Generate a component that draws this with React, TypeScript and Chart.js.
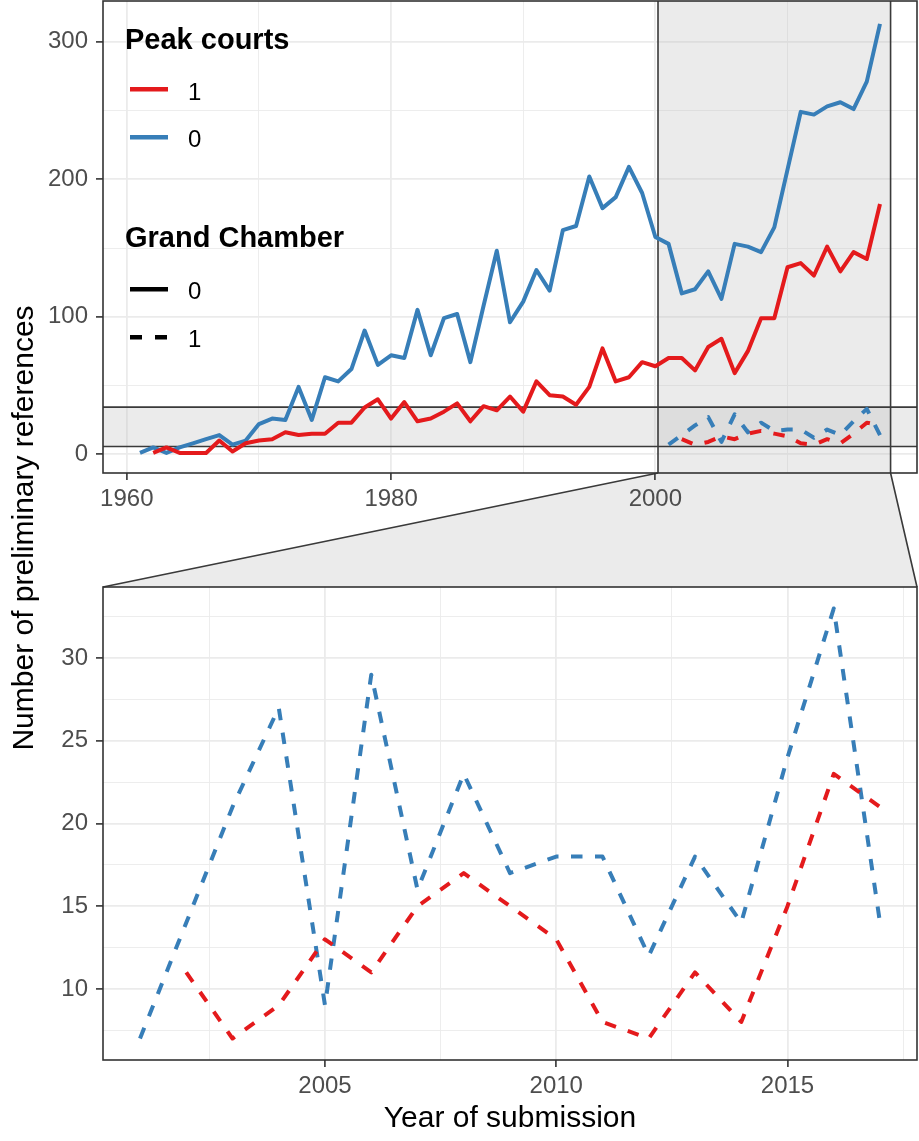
import React, { useEffect, useRef } from "react";
import { Chart, registerables } from "chart.js";

Chart.register(...registerables);

const W = 919;
const H = 1141;
const TOP_H = 515;
const FONT = '"Liberation Sans", Arial, Helvetica, sans-serif';
const RED = "#E41A1C";
const BLUE = "#377EB8";
const DARK = "#333333";
const ZOOM_FILL = "rgba(190,190,190,0.31)";
const DASH = [11.5, 12.5];

// Peak courts = 0, Grand Chamber = 0 (blue solid), first year 1961
const peak0Gc0Start = 1961;
const peak0Gc0 = [
  1, 5, 1, 5, 8, 11, 14, 7, 10, 22, 26, 25, 49, 25, 56, 53, 62, 90, 65, 72,
  70, 105, 72, 99, 102, 67, 108, 148, 96, 111, 134, 119, 163, 166, 202, 179, 187, 209, 190, 158,
  153, 117, 120, 133, 113, 153, 151, 147, 165, 207, 249, 247, 253, 256, 251, 271, 313,
];

// Peak courts = 1, Grand Chamber = 0 (red solid), first year 1962
const peak1Gc0Start = 1962;
const peak1Gc0 = [
  1, 5, 1, 1, 1, 10, 2, 8, 10, 11, 16, 14, 15, 15, 23, 23, 34, 40, 26,
  38, 24, 26, 31, 37, 24, 35, 32, 42, 31, 53, 43, 42, 36, 49, 77, 53, 56, 67, 64,
  70, 70, 61, 78, 84, 59, 75, 99, 99, 136, 139, 130, 151, 133, 147, 142, 182,
];

// Peak courts = 0, Grand Chamber = 1 (blue dashed), first year 2001
const peak0Gc1Start = 2001;
const peak0Gc1 = [7, 14, 21, 27, 9, 29, 16, 23, 17, 18, 18, 12, 18, 14, 24, 33, 14];

// Peak courts = 1, Grand Chamber = 1 (red dashed), first year 2002
const peak1Gc1Start = 2002;
const peak1Gc1 = [11, 7, 9, 13, 11, 15, 17, 15, 13, 8, 7, 11, 8, 15, 23, 21];

// axes
const topXRange = [1958.2, 2019.8];
const topYRange = [-13.6, 329.6];
const zoomXRange = [2000.2, 2017.8];
const zoomYRange = [5.7, 34.3];
const topXMajor = [1960, 1980, 2000];
const topXMinor = [1970, 1990, 2010];
const topYMajor = [0, 100, 200, 300];
const topYMinor = [50, 150, 250];
const botXMajor = [2005, 2010, 2015];
const botXMinor = [2002.5, 2007.5, 2012.5, 2017.5];
const botYMajor = [10, 15, 20, 25, 30];
const botYMinor = [7.5, 12.5, 17.5, 22.5, 27.5, 32.5];

const legendColourTitle = "Peak courts";
const legendColourLabels = ["1", "0"];
const legendTypeTitle = "Grand Chamber";
const legendTypeLabels = ["0", "1"];
const xTitle = "Year of submission";
const yTitle = "Number of preliminary references";

function toPoints(start: number, vals: number[]) {
  return vals.map((v, i) => ({ x: start + i, y: v }));
}

function makeDatasets() {
  const common = {
    borderWidth: 4,
    pointRadius: 0,
    pointHoverRadius: 0,
    fill: false,
    tension: 0,
    borderCapStyle: "butt" as const,
    borderJoinStyle: "round" as const,
  };
  return [
    { ...common, label: "p1g1", data: toPoints(peak1Gc1Start, peak1Gc1), borderColor: RED, borderDash: DASH, order: 0 },
    { ...common, label: "p0g1", data: toPoints(peak0Gc1Start, peak0Gc1), borderColor: BLUE, borderDash: DASH, order: 1 },
    { ...common, label: "p1g0", data: toPoints(peak1Gc0Start, peak1Gc0), borderColor: RED, borderDash: [], order: 2 },
    { ...common, label: "p0g0", data: toPoints(peak0Gc0Start, peak0Gc0), borderColor: BLUE, borderDash: [], order: 3 },
  ];
}

function linScale(
  range: number[],
  major: number[],
  minor: number[],
  pad: number,
  fit: (s: any) => void
) {
  const all = [...major, ...minor].sort((a, b) => a - b);
  const isMajor = (v: any) => major.includes(v);
  return {
    type: "linear" as const,
    min: range[0],
    max: range[1],
    afterBuildTicks: (s: any) => {
      s.ticks = all.map((v) => ({ value: v }));
    },
    afterFit: (s: any) => {
      s.paddingTop = 0;
      s.paddingBottom = 0;
      s.paddingLeft = 0;
      s.paddingRight = 0;
      fit(s);
    },
    ticks: {
      autoSkip: false,
      maxRotation: 0,
      minRotation: 0,
      color: "#4D4D4D",
      font: { family: FONT, size: 24 },
      padding: pad,
      callback: (v: any) => (isMajor(v) ? String(v) : ""),
    },
    grid: {
      color: "#EBEBEB",
      lineWidth: (ctx: any) => (ctx.tick && isMajor(ctx.tick.value) ? 1.8 : 0.9),
      drawTicks: true,
      tickLength: 7,
      tickWidth: 1.6,
      tickColor: (ctx: any) => (ctx.tick && isMajor(ctx.tick.value) ? DARK : "rgba(0,0,0,0)"),
    },
    border: { display: false },
  };
}

export default function App() {
  const topRef = useRef<HTMLCanvasElement>(null);
  const botRef = useRef<HTMLCanvasElement>(null);

  useEffect(() => {
    let topChart: any = null;

    const topPlugin = {
      id: "topDecor",
      beforeDatasetsDraw(chart: any) {
        const { ctx, chartArea: a, scales } = chart;
        const x0 = scales.x.getPixelForValue(zoomXRange[0]);
        const x1 = scales.x.getPixelForValue(zoomXRange[1]);
        const y0 = scales.y.getPixelForValue(zoomYRange[0]);
        const y1 = scales.y.getPixelForValue(zoomYRange[1]);
        ctx.save();
        ctx.fillStyle = ZOOM_FILL;
        ctx.fillRect(x0, a.top, x1 - x0, a.bottom - a.top);
        ctx.fillRect(a.left, y1, a.right - a.left, y0 - y1);
        ctx.strokeStyle = "#3a3a3a";
        ctx.lineWidth = 1.6;
        ctx.beginPath();
        ctx.moveTo(x0, a.top);
        ctx.lineTo(x0, a.bottom);
        ctx.moveTo(x1, a.top);
        ctx.lineTo(x1, a.bottom);
        ctx.moveTo(a.left, y0);
        ctx.lineTo(a.right, y0);
        ctx.moveTo(a.left, y1);
        ctx.lineTo(a.right, y1);
        ctx.stroke();
        ctx.restore();
      },
      afterDraw(chart: any) {
        const { ctx, chartArea: a } = chart;
        ctx.save();
        ctx.strokeStyle = DARK;
        ctx.lineWidth = 1.6;
        ctx.strokeRect(a.left, a.top, a.right - a.left, a.bottom - a.top);

        // legend
        ctx.fillStyle = "#000";
        ctx.textAlign = "left";
        ctx.textBaseline = "alphabetic";
        ctx.font = `bold 29px ${FONT}`;
        ctx.fillText(legendColourTitle, 125, 48.5);
        ctx.fillText(legendTypeTitle, 125, 246.5);

        const keys = [
          { y: 89.3, color: RED, dash: [] as number[], label: legendColourLabels[0], base: 99.5 },
          { y: 137.3, color: BLUE, dash: [] as number[], label: legendColourLabels[1], base: 147.3 },
          { y: 289.3, color: "#000", dash: [] as number[], label: legendTypeLabels[0], base: 298.5 },
          { y: 337.3, color: "#000", dash: [12, 13], label: legendTypeLabels[1], base: 346.7 },
        ];
        ctx.font = `24px ${FONT}`;
        for (const k of keys) {
          ctx.beginPath();
          ctx.setLineDash(k.dash);
          ctx.lineCap = "butt";
          ctx.strokeStyle = k.color;
          ctx.lineWidth = 4.5;
          ctx.moveTo(130, k.y);
          ctx.lineTo(168, k.y);
          ctx.stroke();
          ctx.setLineDash([]);
          ctx.fillStyle = "#000";
          ctx.fillText(k.label, 188, k.base);
        }
        ctx.restore();
      },
    };

    const botPlugin = {
      id: "botDecor",
      beforeDraw(chart: any) {
        if (!topChart) return;
        const { ctx, chartArea: a } = chart;
        const ts = topChart.scales;
        const tx0 = ts.x.getPixelForValue(zoomXRange[0]);
        const tx1 = ts.x.getPixelForValue(zoomXRange[1]);
        const ty = topChart.chartArea.bottom;
        ctx.save();
        ctx.fillStyle = ZOOM_FILL;
        ctx.beginPath();
        ctx.moveTo(tx0, ty);
        ctx.lineTo(tx1, ty);
        ctx.lineTo(a.right, a.top);
        ctx.lineTo(a.left, a.top);
        ctx.closePath();
        ctx.fill();
        ctx.strokeStyle = "#3a3a3a";
        ctx.lineWidth = 1.6;
        ctx.beginPath();
        ctx.moveTo(tx0, ty);
        ctx.lineTo(a.left, a.top);
        ctx.moveTo(tx1, ty);
        ctx.lineTo(a.right, a.top);
        ctx.stroke();
        ctx.restore();
      },
      afterDraw(chart: any) {
        const { ctx, chartArea: a } = chart;
        ctx.save();
        ctx.strokeStyle = DARK;
        ctx.lineWidth = 1.6;
        ctx.strokeRect(a.left, a.top, a.right - a.left, a.bottom - a.top);
        ctx.fillStyle = "#000";
        ctx.font = `30px ${FONT}`;
        ctx.textAlign = "center";
        ctx.textBaseline = "alphabetic";
        ctx.fillText(xTitle, (a.left + a.right) / 2, 1126.7);
        ctx.translate(33, 528);
        ctx.rotate(-Math.PI / 2);
        ctx.fillText(yTitle, 0, 0);
        ctx.restore();
      },
    };

    const baseOptions = {
      responsive: false,
      maintainAspectRatio: false,
      animation: false as const,
      events: [] as any[],
      plugins: { legend: { display: false }, tooltip: { enabled: false } },
    };

    topChart = new Chart(topRef.current as HTMLCanvasElement, {
      type: "line",
      data: { datasets: makeDatasets() as any },
      options: {
        ...baseOptions,
        layout: { padding: { top: 1, left: 0, right: 2, bottom: 0 } },
        scales: {
          x: linScale(topXRange, topXMajor, topXMinor, 5, (s: any) => {
            s.height = TOP_H - 473;
          }),
          y: linScale(topYRange, topYMajor, topYMinor, 8, (s: any) => {
            s.width = 103;
          }),
        } as any,
      },
      plugins: [topPlugin],
    } as any);

    const botChart = new Chart(botRef.current as HTMLCanvasElement, {
      type: "line",
      data: { datasets: makeDatasets() as any },
      options: {
        ...baseOptions,
        layout: { padding: { top: 587, left: 0, right: 2, bottom: 0 } },
        scales: {
          x: linScale(zoomXRange, botXMajor, botXMinor, 5, (s: any) => {
            s.height = H - 1060;
          }),
          y: linScale(zoomYRange, botYMajor, botYMinor, 8, (s: any) => {
            s.width = 103;
          }),
        } as any,
      },
      plugins: [botPlugin],
    } as any);

    return () => {
      botChart.destroy();
      topChart.destroy();
      topChart = null;
    };
  }, []);

  return (
    <div style={{ position: "absolute", left: 0, top: 0, width: W, height: H, background: "#fff" }}>
      <canvas
        ref={botRef}
        width={W}
        height={H}
        style={{ position: "absolute", left: 0, top: 0, width: W, height: H }}
      />
      <canvas
        ref={topRef}
        width={W}
        height={TOP_H}
        style={{ position: "absolute", left: 0, top: 0, width: W, height: TOP_H }}
      />
    </div>
  );
}
